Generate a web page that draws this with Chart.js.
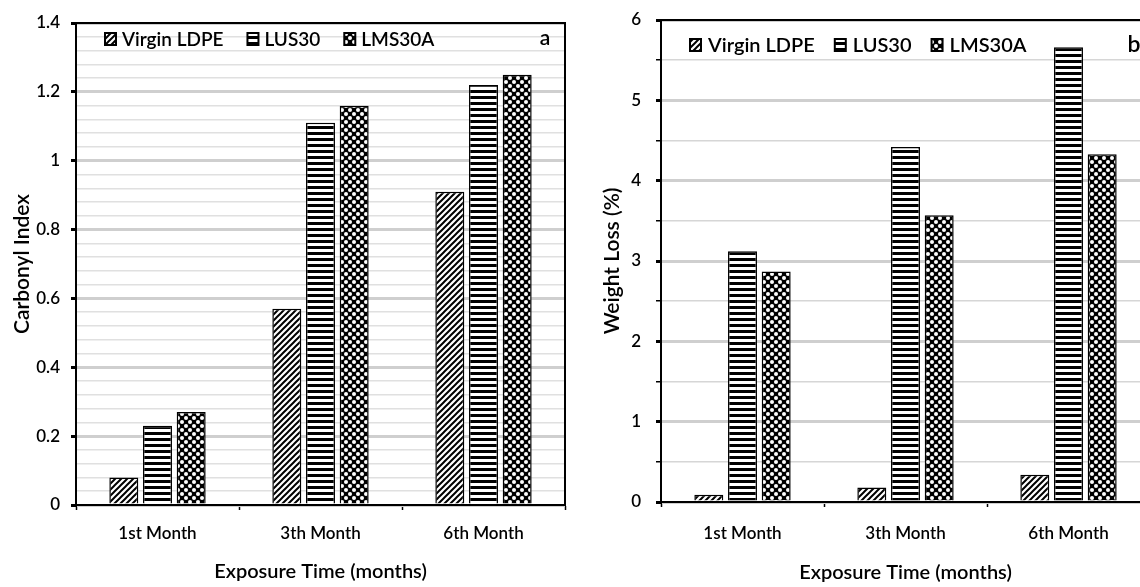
<!DOCTYPE html>
<html>
<head>
<meta charset="utf-8">
<script src="https://cdn.jsdelivr.net/npm/chart.js@4.4.0/dist/chart.umd.min.js"></script>
<style>
  html, body { margin: 0; padding: 0; background: #fff; overflow: hidden; }
  #wrap { position: relative; width: 1140px; height: 587px; overflow: hidden; }
  #boxA { position: absolute; left: 0; top: 0; width: 570px; height: 587px; }
  #boxB { position: absolute; left: 570px; top: 0; width: 600px; height: 587px; }
</style>
</head>
<body>
<div id="wrap">
  <div id="boxA"><canvas id="carbonylChart"></canvas></div>
  <div id="boxB"><canvas id="weightChart"></canvas></div>
</div>
<script>
// data
var MONTHS = ['1st Month', '3th Month', '6th Month'];
var SERIES = ['Virgin LDPE', 'LUS30', 'LMS30A'];

var carbonylVirgin = [0.08, 0.57, 0.91];
var carbonylLUS30 = [0.23, 1.11, 1.22];
var carbonylLMS30A = [0.27, 1.16, 1.25];
var carbonylMajorTicks = [0, 0.2, 0.4, 0.6, 0.8, 1, 1.2, 1.4];

var weightVirgin = [0.09, 0.18, 0.34];
var weightLUS30 = [3.12, 4.42, 5.66];
var weightLMS30A = [2.87, 3.57, 4.33];
var weightMajorTicks = [0, 1, 2, 3, 4, 5, 6];

Chart.defaults.font.family = 'Lato, "Open Sans", sans-serif';
Chart.defaults.font.weight = 600;
Chart.defaults.color = '#000';

function makePattern(kind) {
    var c = document.createElement('canvas');
    var p = c.getContext('2d');
    if (kind === 'diag') {
        c.width = 6; c.height = 6;
        p.fillStyle = '#fff'; p.fillRect(0, 0, 6, 6);
        p.strokeStyle = '#000'; p.lineWidth = 2;
        p.beginPath();
        p.moveTo(0, 6); p.lineTo(6, 0);
        p.moveTo(-1, 1); p.lineTo(1, -1);
        p.moveTo(5, 7); p.lineTo(7, 5);
        p.stroke();
    } else if (kind === 'horiz') {
        c.width = 6; c.height = 6;
        p.fillStyle = '#fff'; p.fillRect(0, 0, 6, 6);
        p.fillStyle = '#000'; p.fillRect(0, 0, 6, 3);
    } else {
        c.width = 8; c.height = 8;
        p.fillStyle = '#000'; p.fillRect(0, 0, 8, 8);
        p.fillStyle = '#fff';
        p.beginPath(); p.arc(2, 2, 2, 0, Math.PI * 2); p.fill();
        p.beginPath(); p.arc(6, 6, 2, 0, Math.PI * 2); p.fill();
    }
    return p.createPattern(c, 'repeat');
}

var patDiag = makePattern('diag');
var patHoriz = makePattern('horiz');
var patCheck = makePattern('check');

function isMajor(v, majors) {
    for (var i = 0; i < majors.length; i++) {
        if (Math.abs(v - majors[i]) < 1e-6) return true;
    }
    return false;
}

// frame around plot, panel letter and inside legend
var framePlugin = {
    id: 'frame',
    afterDatasetsDraw: function(chart, args, opts) {
        var a = chart.chartArea, ctx = chart.ctx;
        ctx.save();
        ctx.strokeStyle = '#000';
        ctx.lineWidth = 2;
        ctx.strokeRect(a.left, a.top, a.right - a.left, a.bottom - a.top);

        ctx.fillStyle = '#000';
        ctx.textBaseline = 'middle';
        ctx.textAlign = 'center';
        ctx.font = '600 ' + opts.letterSize + 'px ' + Chart.defaults.font.family;
        ctx.fillText(opts.letter, a.right - opts.letterDx, a.top + opts.letterDy);

        ctx.font = '600 ' + opts.fontSize + 'px ' + Chart.defaults.font.family;
        ctx.textAlign = 'left';
        var x = a.left + opts.legendX;
        var y = a.top + opts.legendY;
        chart.data.datasets.forEach(function(ds) {
            ctx.fillStyle = ds.backgroundColor;
            ctx.fillRect(x, y - 6, 11, 12);
            ctx.lineWidth = 2;
            ctx.strokeRect(x, y - 6, 11, 12);
            ctx.fillStyle = '#000';
            ctx.fillText(ds.label, x + 11 + opts.textGap, y + 1);
            x += 11 + opts.textGap + ctx.measureText(ds.label).width + opts.itemGap;
        });
        ctx.restore();
    }
};

function buildChart(id, d1, d2, d3, cfg) {
    var ctx = document.getElementById(id).getContext('2d');
    return new Chart(ctx, {
        type: 'bar',
        data: {
            labels: MONTHS,
            datasets: [{
                label: SERIES[0], data: d1,
                backgroundColor: patDiag, borderColor: '#000', borderWidth: 1.5
            }, {
                label: SERIES[1], data: d2,
                backgroundColor: patHoriz, borderColor: '#000', borderWidth: 1.5
            }, {
                label: SERIES[2], data: d3,
                backgroundColor: patCheck, borderColor: '#000', borderWidth: 1.5
            }]
        },
        options: {
            responsive: true,
            maintainAspectRatio: false,
            animation: false,
            categoryPercentage: 0.62,
            barPercentage: 0.86,
            layout: { padding: cfg.padding },
            plugins: {
                legend: { display: false },
                tooltip: { enabled: false },
                frame: cfg.frame
            },
            scales: {
                x: {
                    afterFit: function(s) { s.height = cfg.xHeight; },
                    grid: { drawOnChartArea: false, tickLength: 5, tickColor: '#000', tickWidth: 1.5 },
                    border: { display: true, color: '#000', width: 2 },
                    ticks: { padding: cfg.xTickPad, font: { size: 17 }, color: '#000' },
                    title: {
                        display: true, text: 'Exposure Time (months)',
                        font: { size: 20 }, color: '#000',
                        padding: { top: 0, bottom: cfg.xTitlePad }
                    }
                },
                y: {
                    min: 0, max: cfg.max,
                    afterFit: function(s) { s.width = cfg.yWidth; },
                    ticks: {
                        stepSize: cfg.step, autoSkip: false, padding: cfg.yTickPad,
                        font: { size: 17, lineHeight: '10px' }, color: '#000',
                        callback: function(v) {
                            return isMajor(v, cfg.majors) ? String(Math.round(v * 10) / 10) : '';
                        }
                    },
                    grid: {
                        tickLength: 5,
                        color: function(c) {
                            return c.tick && isMajor(c.tick.value, cfg.majors) ? '#cfcfcf' : cfg.minorColor;
                        },
                        lineWidth: function(c) {
                            return c.tick && isMajor(c.tick.value, cfg.majors) ? 3 : 1.5;
                        },
                        tickColor: function(c) {
                            return cfg.allTicks || (c.tick && isMajor(c.tick.value, cfg.majors)) ? '#000' : 'rgba(0,0,0,0)';
                        }
                    },
                    border: { display: true, color: '#000', width: 2 },
                    title: {
                        display: true, text: cfg.yTitle,
                        font: { size: 21 }, color: '#000',
                        padding: { top: cfg.yTitlePad, bottom: 0 }
                    }
                }
            }
        },
        plugins: [framePlugin]
    });
}

// panel a
buildChart('carbonylChart', carbonylVirgin, carbonylLUS30, carbonylLMS30A, {
    padding: { top: 23, right: 5, bottom: 0, left: 0 },
    xHeight: 82, xTickPad: 13, xTitlePad: 3,
    yWidth: 76, yTickPad: 11, yTitlePad: 10,
    max: 1.4, step: 0.04, majors: carbonylMajorTicks,
    minorColor: '#e0e0e0', allTicks: false,
    yTitle: 'Carbonyl Index',
    frame: { letter: 'a', letterDx: 20, letterDy: 15, letterSize: 21, fontSize: 19,
             legendX: 29, legendY: 16, textGap: 6, itemGap: 24 }
});

// panel b
buildChart('weightChart', weightVirgin, weightLUS30, weightLMS30A, {
    padding: { top: 18, right: 20, bottom: 0, left: 0 },
    xHeight: 85, xTickPad: 16, xTitlePad: 2,
    yWidth: 91, yTickPad: 15, yTitlePad: 30,
    max: 6, step: 0.5, majors: weightMajorTicks,
    minorColor: '#d6d6d6', allTicks: true,
    yTitle: 'Weight Loss (%)',
    frame: { letter: 'b', letterDx: 16, letterDy: 25, letterSize: 23, fontSize: 20,
             legendX: 29, legendY: 25, textGap: 7, itemGap: 20 }
});
</script>
</body>
</html>
